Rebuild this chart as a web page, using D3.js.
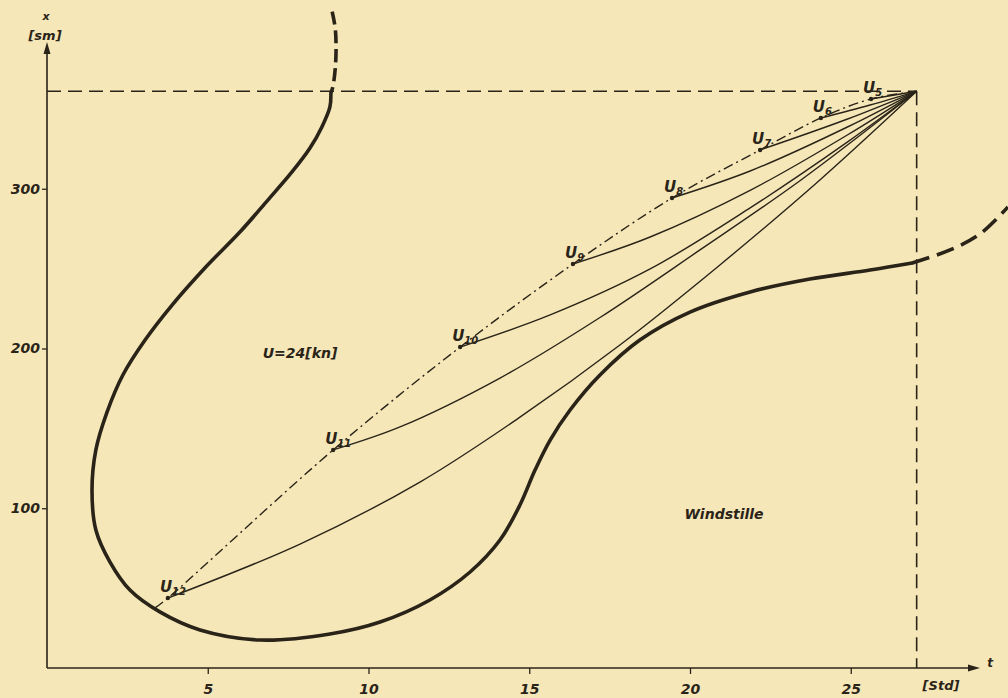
<!DOCTYPE html>
<html>
<head>
<meta charset="utf-8">
<script src="https://cdn.jsdelivr.net/npm/d3@7"></script>
<style>
  html, body { margin: 0; padding: 0; background: #f6e7b9; }
  svg { display: block; }
  text { font-family: "DejaVu Sans", sans-serif; font-style: italic; fill: #2a2418; }
</style>
</head>
<body>
<svg id="chart" width="1008" height="698"></svg>
<script>
// ---- data (t in [Std], x in [sm]) ----
const xTicks = [5, 10, 15, 20, 25];
const yTicks = [100, 200, 300];
const tEnd = 27.05;
const xEnd = 361;

const uLabels = ["12", "11", "10", "9", "8", "7", "6", "5"];
const uT = [3.76, 8.90, 12.85, 16.36, 19.44, 22.18, 24.07, 25.63];
const uX = [43.8, 136.5, 200.9, 252.9, 294.2, 324.3, 344.3, 356.2];

// intermediate points of the solid curves from each U_i to the end point
const path12 = [[7.87, 77.6], [11.60, 116.4], [14.71, 157.0], [17.82, 202.2], [20.93, 252.3], [24.04, 305.5]];
const path11 = [[10.98, 150.9], [14.09, 181.5], [17.20, 219.4], [20.31, 261.7], [23.42, 305.0]];
const path10 = [[15.65, 221.0], [18.76, 249.8], [21.87, 288.0], [24.88, 329.0]];
const path9 = [[18.76, 269.8], [21.87, 299.0], [24.88, 333.5]];
const path8 = [[21.87, 311.1], [24.88, 338.5]];
const path7 = [[24.88, 343.5]];
const path6 = [[25.60, 352.4]];
const path5 = [];
const uPaths = [path12, path11, path10, path9, path8, path7, path6, path5];

// start of the dash-dot locus below U12
const locusStart = [3.36, 37.6];

// thick boundary curve
const boundaryDashTop = [[8.87, 410.9], [8.96, 401.3], [8.99, 391.2], [8.97, 376.2], [8.89, 363.7], [8.83, 360.0]];
const boundarySolid = [[8.83, 360.0], [8.80, 351.2], [8.55, 338.7], [8.18, 325.5], [7.62, 310.5], [6.87, 292.9],
  [6.00, 272.9], [4.91, 250.4], [3.89, 227.2], [3.05, 205.3], [2.36, 183.4], [1.87, 160.3], [1.52, 136.5],
  [1.40, 111.4], [1.52, 86.4], [1.96, 66.3], [2.58, 48.8], [3.51, 35.1], [4.76, 23.8], [6.63, 17.5],
  [8.80, 21.3], [10.36, 28.8], [11.91, 42.6], [13.16, 60.1], [14.09, 80.1], [14.71, 102.0], [15.18, 123.9],
  [15.65, 142.7], [16.27, 161.5], [17.20, 183.4], [18.44, 205.3], [20.00, 222.8], [21.87, 235.4],
  [23.73, 243.5], [25.60, 249.1], [26.91, 253.5]];
const boundaryDashRight = [[26.91, 253.5], [28.09, 261.7], [29.02, 271.7], [29.89, 288.6]];

// ---- drawing ----
const ink = "#2a2418";
const svg = d3.select("#chart");
const xs = d3.scaleLinear().domain([0, 30]).range([47, 47 + 30 * 32.15]);
const ys = d3.scaleLinear().domain([0, 400]).range([668, 668 - 400 * 1.5975]);

const line = d3.line().x(d => xs(d[0])).y(d => ys(d[1])).curve(d3.curveCatmullRom.alpha(0.5));

// guide dashed lines
svg.append("line")
  .attr("x1", xs(0)).attr("x2", xs(tEnd)).attr("y1", ys(xEnd)).attr("y2", ys(xEnd))
  .attr("stroke", ink).attr("stroke-width", 1.6).attr("stroke-dasharray", "14,7");
svg.append("line")
  .attr("x1", xs(tEnd)).attr("x2", xs(tEnd)).attr("y1", ys(xEnd)).attr("y2", ys(0))
  .attr("stroke", ink).attr("stroke-width", 1.6).attr("stroke-dasharray", "14,7");

// axes
const xAxis = d3.axisBottom(xs).tickValues(xTicks).tickSize(6).tickFormat(d3.format("d"));
const gx = svg.append("g").attr("transform", `translate(0,${ys(0)})`).call(xAxis);
gx.select(".domain").remove();
gx.selectAll(".tick line").attr("stroke", ink).attr("stroke-width", 1.3);
gx.selectAll(".tick text").attr("dy", "1.2em").style("font-size", "14px").style("font-weight", "bold")
  .attr("fill", ink);

const yAxis = d3.axisLeft(ys).tickValues(yTicks).tickSize(5).tickFormat(d3.format("d"));
const gy = svg.append("g").attr("transform", `translate(${xs(0)},0)`).call(yAxis);
gy.select(".domain").remove();
gy.selectAll(".tick line").attr("stroke", ink).attr("stroke-width", 1.3);
gy.selectAll(".tick text").attr("x", -7).style("font-size", "14px").style("font-weight", "bold")
  .attr("fill", ink);

// axis lines with arrows
const axTop = 50, axRight = 972;
svg.append("line").attr("x1", xs(0)).attr("x2", xs(0)).attr("y1", ys(0)).attr("y2", axTop)
  .attr("stroke", ink).attr("stroke-width", 1.6);
svg.append("path")
  .attr("d", `M${xs(0)},${axTop - 8} L${xs(0) - 3.5},${axTop + 4} L${xs(0) + 3.5},${axTop + 4} Z`)
  .attr("fill", ink);
svg.append("line").attr("x1", xs(0)).attr("x2", axRight).attr("y1", ys(0)).attr("y2", ys(0))
  .attr("stroke", ink).attr("stroke-width", 1.6);
svg.append("path")
  .attr("d", `M${axRight + 8},${ys(0)} L${axRight - 4},${ys(0) - 3.5} L${axRight - 4},${ys(0) + 3.5} Z`)
  .attr("fill", ink);

// axis labels
svg.append("text").attr("x", 46).attr("y", 20).attr("text-anchor", "middle")
  .style("font-size", "11px").style("font-weight", "bold").text("x");
svg.append("text").attr("x", 45).attr("y", 40).attr("text-anchor", "middle")
  .style("font-size", "13px").style("font-weight", "bold").text("[sm]");
svg.append("text").attr("x", 990).attr("y", 667).attr("text-anchor", "middle")
  .style("font-size", "12px").style("font-weight", "bold").text("t");
svg.append("text").attr("x", 941).attr("y", 690).attr("text-anchor", "middle")
  .style("font-size", "13px").style("font-weight", "bold").text("[Std]");

// thick boundary curve
svg.append("path").attr("d", line(boundarySolid)).attr("fill", "none")
  .attr("stroke", ink).attr("stroke-width", 3.6).attr("stroke-linecap", "round");
svg.append("path").attr("d", line(boundaryDashTop)).attr("fill", "none")
  .attr("stroke", ink).attr("stroke-width", 3.6).attr("stroke-dasharray", "13,6");
svg.append("path").attr("d", line(boundaryDashRight)).attr("fill", "none")
  .attr("stroke", ink).attr("stroke-width", 3.6).attr("stroke-dasharray", "18,8");

// solid curves U_i -> end
uPaths.forEach((p, i) => {
  const pts = [[uT[i], uX[i]], ...p, [tEnd, xEnd]];
  svg.append("path").attr("d", line(pts)).attr("fill", "none")
    .attr("stroke", ink).attr("stroke-width", 1.4);
});

// dash-dot locus through the U points
const locus = [locusStart, ...uT.map((t, i) => [t, uX[i]]), [tEnd, xEnd]];
svg.append("path").attr("d", line(locus)).attr("fill", "none")
  .attr("stroke", ink).attr("stroke-width", 1.4).attr("stroke-dasharray", "10,4,2,4");

// U points and labels
uT.forEach((t, i) => {
  const px = xs(t), py = ys(uX[i]);
  svg.append("circle").attr("cx", px).attr("cy", py).attr("r", 2.2).attr("fill", ink);
  const tx = svg.append("text").attr("x", px - 8).attr("y", py - 6)
    .style("font-size", "15px").style("font-weight", "bold");
  tx.append("tspan").text("U");
  tx.append("tspan").attr("dy", 3).style("font-size", "10px").text(uLabels[i]);
});

// region labels
svg.append("text").attr("x", 300).attr("y", 358).attr("text-anchor", "middle")
  .style("font-size", "14px").style("font-weight", "bold").text("U=24[kn]");
svg.append("text").attr("x", 724).attr("y", 519).attr("text-anchor", "middle")
  .style("font-size", "14px").style("font-weight", "bold").text("Windstille");
</script>
</body>
</html>
